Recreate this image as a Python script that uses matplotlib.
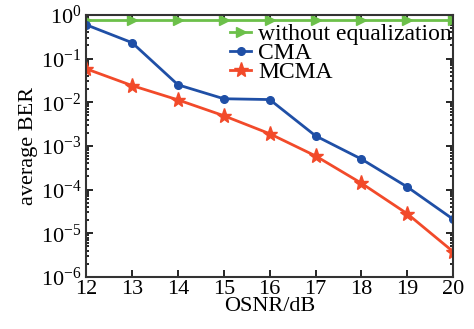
import matplotlib
matplotlib.use("Agg")
import matplotlib.pyplot as plt
from matplotlib.ticker import LogLocator, NullFormatter

osnr = [12, 13, 14, 15, 16, 17, 18, 19, 20]
ber_none = [0.75, 0.75, 0.75, 0.75, 0.75, 0.75, 0.75, 0.75, 0.75]
ber_cma = [0.59, 0.23, 0.025, 0.012, 0.0115, 0.0017, 5.0e-4, 1.15e-4, 2.1e-5]
ber_mcma = [0.058, 0.024, 0.0113, 0.0049, 0.0019, 5.9e-4, 1.4e-4, 2.8e-5, 3.8e-6]

plt.rcParams['font.family'] = ['Liberation Serif', 'DejaVu Serif']
plt.rcParams['mathtext.fontset'] = 'stix'

fig = plt.figure(figsize=(4.74, 3.29), dpi=100)
ax = fig.add_axes([0.182, 0.158, 0.774, 0.797])

ax.semilogy(osnr, ber_none, color='#6cc04a', marker='>', markersize=7,
            linewidth=2, label='without equalization')
ax.semilogy(osnr, ber_cma, color='#1f4fa6', marker='o', markersize=5.5,
            linewidth=2, label='CMA')
ax.semilogy(osnr, ber_mcma, color='#f24a2a', marker='*', markersize=11,
            linewidth=2, label='MCMA')

ax.set_xlim(12, 20)
ax.set_ylim(1e-6, 1)
ax.set_xticks(osnr)
ax.yaxis.set_major_locator(LogLocator(base=10, numticks=10))
ax.yaxis.set_minor_locator(LogLocator(base=10, subs=range(2, 10), numticks=20))
ax.yaxis.set_minor_formatter(NullFormatter())
ax.tick_params(which='both', direction='in', top=True, right=True,
               labelsize=16, width=1.2)
ax.tick_params(which='major', length=5)
ax.tick_params(which='minor', length=2.5)
ax.tick_params(axis='x', pad=2)
for s in ax.spines.values():
    s.set_linewidth(1.5)
    s.set_color('#333333')

ax.set_xlabel('OSNR/dB', fontsize=16, labelpad=-1)
ax.set_ylabel('average BER', fontsize=16, labelpad=2)

ax.legend(loc='upper right', frameon=False, fontsize=17, handlelength=0.9,
          handletextpad=0.3, labelspacing=-0.1, borderaxespad=0.0,
          borderpad=0.2, bbox_to_anchor=(1.01, 0.985))

fig.savefig('out.png', dpi=100)
